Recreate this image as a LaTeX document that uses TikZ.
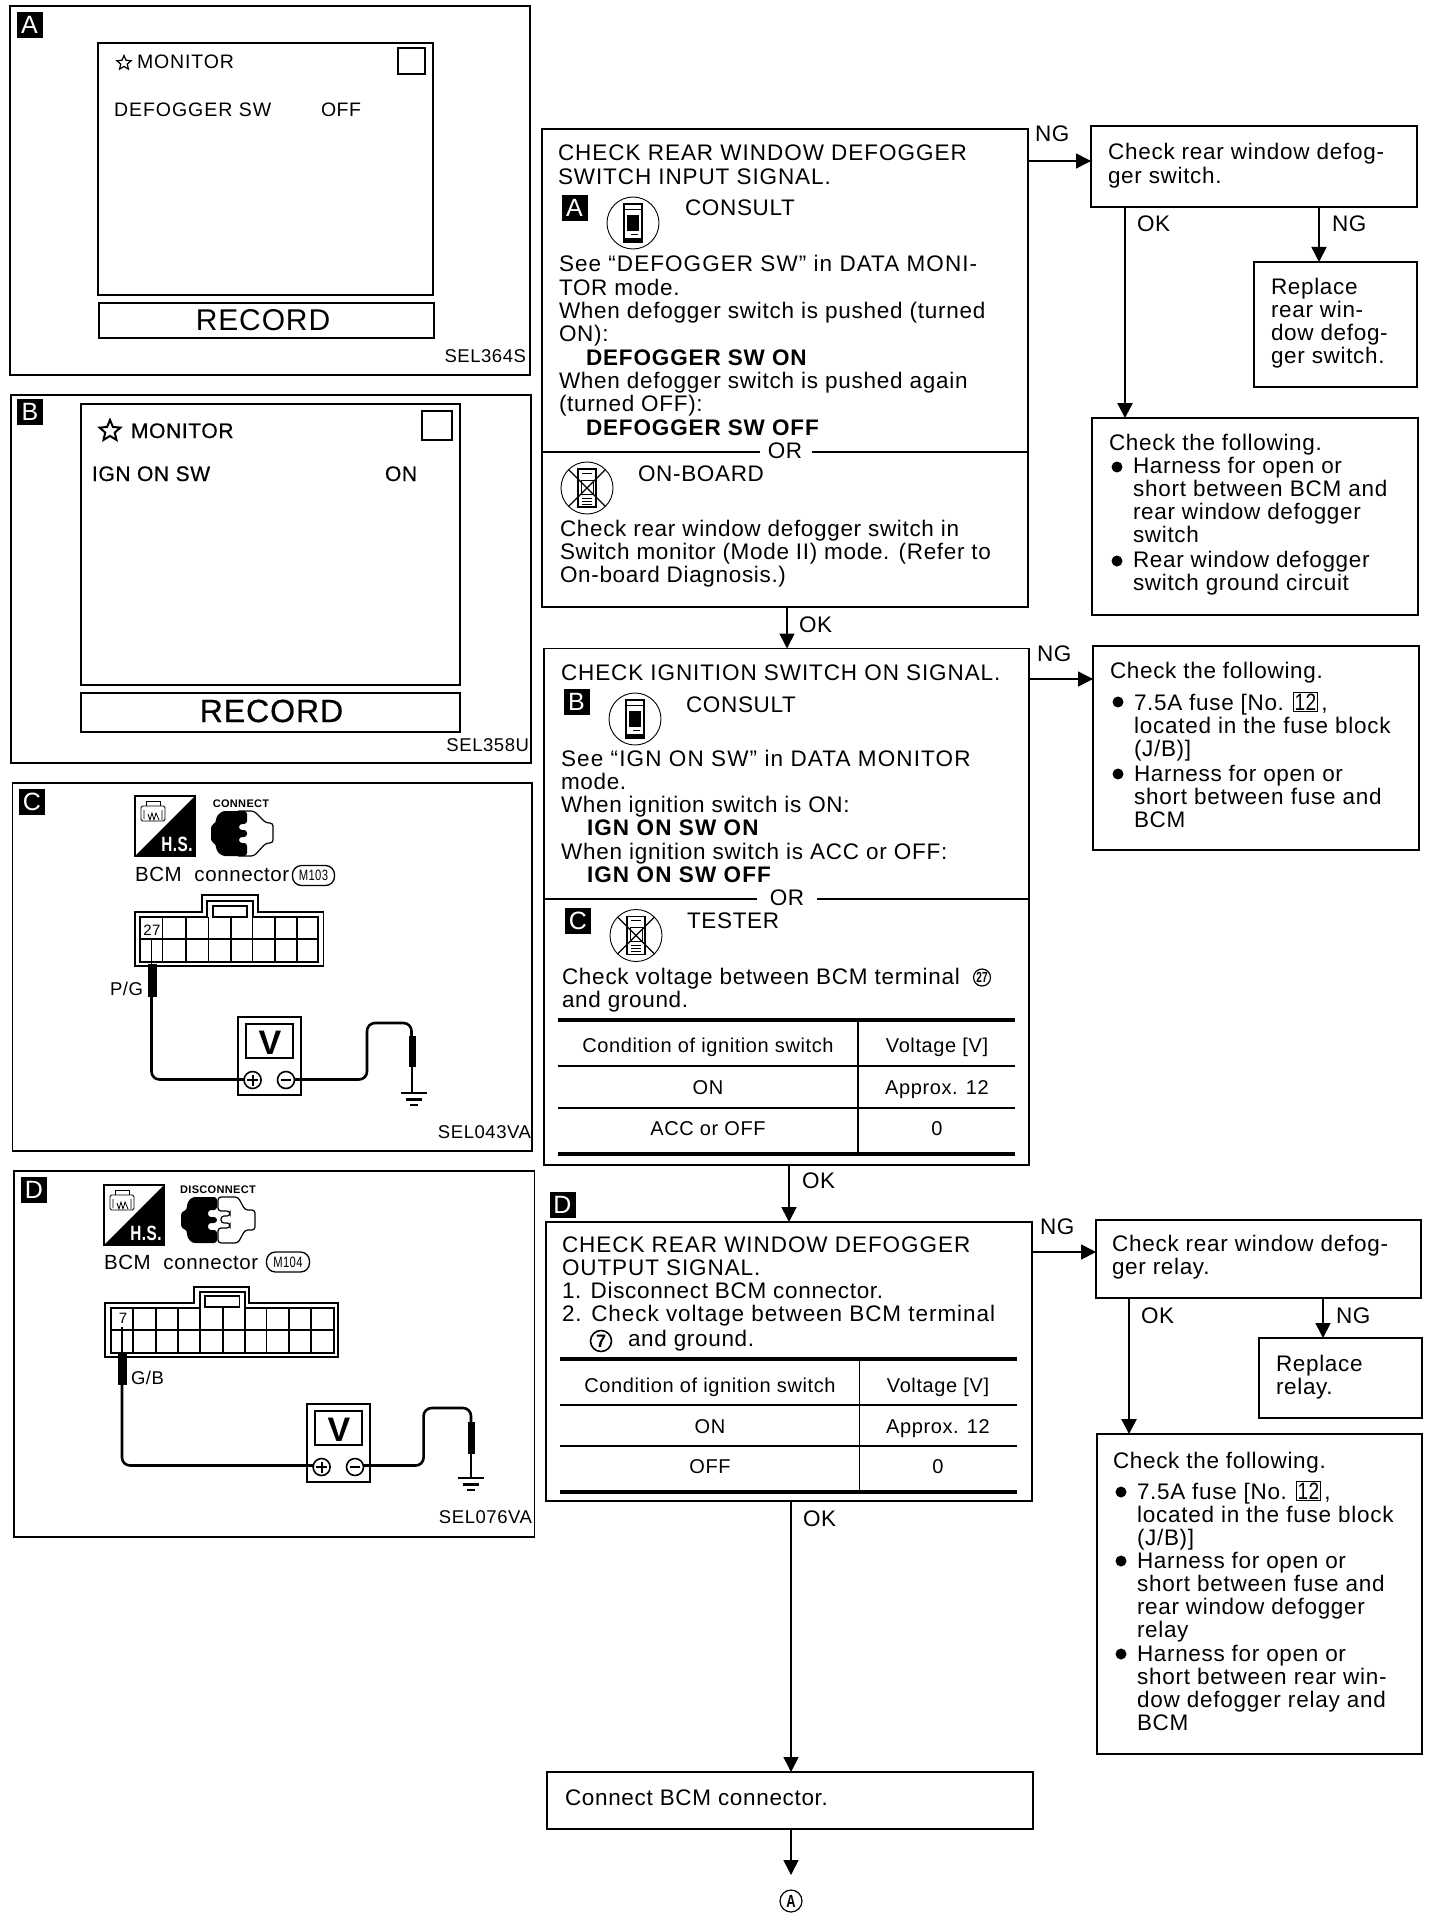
\documentclass[tikz,border=0pt]{standalone}
\usepackage{fontspec}
\usepackage{graphicx}
\setmainfont[LetterSpace=3]{Liberation Sans}
\usetikzlibrary{arrows.meta,shapes.geometric}
\newcommand\fsz[2]{\fontsize{#1}{#2}\selectfont}
\newcommand\Lines[1]{\begin{tabular}[t]{@{}l@{}}#1\end{tabular}}
\newcommand\Ls[2]{{\addfontfeature{LetterSpace=#1}#2}}
\newcommand\Hv{\addfontfeature{FakeBold=0.6}}
\newcommand\Ind[2]{\hspace*{27pt}\textbf{\Ls{#1}{#2}}}
\newcommand\Fuse{\smash{\setlength\fboxsep{0.6pt}\setlength\fboxrule{0.7pt}\fbox{\scalebox{0.85}[1.05]{12}}}}
\newcommand\bx[6][flowbox]{\node[#1,minimum width=#5pt,minimum height=#6pt] (#2) at (#3,#4) {};}
\tikzset{
  every node/.style={inner sep=0pt,outer sep=0pt},
  flowbox/.style={draw,rectangle,line width=1.8pt,anchor=north west},
  panelbox/.style={draw,rectangle,line width=1.8pt,anchor=north west},
  thickbox/.style={draw,rectangle,line width=2.8pt,anchor=north west},
  thinbox/.style={draw,rectangle,line width=1.6pt,anchor=north west},
  txt/.style={anchor=base west,xshift=-1pt,font=\fsz{22.5}{23.3}},
  lbl/.style={anchor=base west,xshift=-1pt,font=\fsz{22.5}{23.3}},
  ptxt/.style={anchor=base west,font=\fsz{19.5}{23}},
  btxt/.style={anchor=base west,font=\fsz{21}{23}\Hv},
  code/.style={anchor=base east,font=\fsz{18.5}{22}},
  cell/.style={anchor=base,font=\fsz{20}{23}},
  badge/.style={fill=black,text=white,minimum size=26pt,font=\fsz{25}{25}},
  bul/.style={circle,fill=black,minimum size=11pt},
  ring/.style={circle,draw,line width=1.2pt},
  tag/.style={draw,rectangle,rounded corners=9pt,line width=1.3pt,font=\fsz{15}{15}},
  arr/.style={line width=1.6pt,-{Triangle[length=15pt,width=15pt]}},
  arrb/.style={line width=2.6pt,-{Triangle[length=15pt,width=15pt]}},
  rule/.style={line width=1.6pt},
  heavy/.style={line width=4pt},
  wire/.style={line width=2.6pt,rounded corners=8pt},
  thin1/.style={line width=1.3pt},
  consultdev/.pic={
    \draw[line width=0.9pt] (0,0) circle[radius=26pt];
    \draw[line width=1.6pt,fill=white] (-9,-19) rectangle (9,19);
    \fill (-6,-8) rectangle (6,8);
    \draw[line width=0.7pt] (-9,-14) -- (9,-14);
    \fill (-9,15) rectangle (9,20);
    \draw[line width=0.7pt] (-2,11) -- (5,11);
  },
  crosseddev/.pic={
    \draw[line width=0.9pt] (0,0) circle[radius=26pt];
    \draw[line width=1.1pt] (-9,-19) rectangle (9,19);
    \draw[line width=1.0pt] (-6,-8) rectangle (6,6);
    \draw[line width=1.1pt] (-18.4,-18.4) -- (18.4,18.4) (18.4,-18.4) -- (-18.4,18.4);
    \draw[line width=0.7pt] (-5,-15) -- (5,-15) (-5,10) -- (5,10) (-5,13) -- (5,13) (-5,16) -- (5,16);
  },
  hsicon/.pic={
    \draw[line width=1.3pt] (0,0) rectangle (60,60);
    \fill (60,0) -- (60,60) -- (0,60) -- cycle;
    \node[text=white,font=\bfseries\fsz{18}{18},anchor=base] (hs) at (42,55) {\scalebox{0.85}[1.15]{H.S.}};
    \draw[line width=0.9pt,fill=white,rounded corners=1.5pt] (6,10) rectangle (30,25);
    \draw[line width=0.9pt] (11,10) -- (11,5) -- (25,5) -- (25,10);
    \draw[line width=0.8pt] (9,14) -- (9,23) (13,18) -- (15,24) -- (17,17) -- (19,24) -- (21,17) -- (24,24) (27,14) -- (27,24);
  },
  vmeter/.pic={
    \draw[line width=1.8pt,fill=white] (0,0) rectangle (63,78);
    \draw[line width=2.8pt] (8,7) rectangle (55,41);
    \node[font=\bfseries\fsz{34}{34},anchor=base] (v) at (32,37) {V};
    \draw[line width=1.6pt,fill=white] (14.6,63) circle[radius=8.5pt];
    \draw[line width=1.6pt,fill=white] (48,63) circle[radius=8.5pt];
    \draw[line width=2pt] (9,63) -- (20,63) (14.6,57.5) -- (14.6,68.5) (43,63) -- (53,63);
  },
  gnd/.pic={
    \draw[line width=2.2pt] (-13,0) -- (13,0);
    \draw[line width=2.2pt] (-8,6.5) -- (8,6.5);
    \draw[line width=2.2pt] (-4,12) -- (4,12);
  }
}
\begin{document}
\begin{tikzpicture}[x=1pt,y=-1pt]
\useasboundingbox (0,0) rectangle (1440,1918);
\fill[white] (0,0) rectangle (1440,1918);

% ---------- Panel A
\bx[panelbox]{pA}{10}{6}{520}{369}
\node[badge] (bA) at (29.5,25) {A};
\bx[thinbox]{sA}{98}{43}{335}{252}
\bx[thinbox]{qA}{398}{48}{27}{26}
\bx[thinbox]{rA}{99}{303}{335}{35}
\node[star,star points=5,star point ratio=2.2,draw,line width=1.2pt,minimum size=15pt] (stA) at (124,63) {};
\node[ptxt] (mA) at (137,69) {\Ls{4.5}{MONITOR}};
\node[ptxt] (dA) at (114,117) {\Ls{5}{DEFOGGER SW}};
\node[ptxt] (oA) at (321,117) {OFF};
\node[anchor=base,font=\fsz{30}{30}] (recA) at (263,330) {RECORD};
\node[code] (cA) at (526,362) {SEL364S};

% ---------- Panel B
\bx[panelbox]{pB}{11}{395}{520}{368}
\node[badge] (bB) at (30,412) {B};
\bx[thickbox]{sB}{81}{404}{379}{281}
\bx[thickbox]{qB}{422}{411}{30}{29}
\bx[thickbox]{rB}{81}{693}{379}{39}
\node[star,star points=5,star point ratio=2.2,draw,line width=2pt,minimum size=22pt] (stB) at (110,431) {};
\node[btxt] (mB) at (131,438) {MONITOR};
\node[btxt] (dB) at (92,481) {IGN ON SW};
\node[btxt] (oB) at (385,481) {ON};
\node[anchor=base,font=\fsz{32}{32}\Hv] (recB) at (271.5,722) {RECORD};
\node[code] (cB) at (529,751) {SEL358U};

% ---------- Panel C
\bx[panelbox]{pC}{12.5}{783}{519.5}{368}
\node[badge] (bC) at (32,802) {C};
\pic (hC) at (135,796) {hsicon};
\node[anchor=base,font=\bfseries\fsz{11}{11}] (conC) at (241,807) {CONNECT};
\begin{scope}[shift={(241,833)}]
  \draw[line width=1.2pt,fill=white,rounded corners=3pt] (-5,-22) -- (13,-22) -- (25,-10) -- (32,-10) -- (32,10) -- (25,10) -- (13,23) -- (-5,23) -- cycle;
  \fill[rounded corners=3pt] (-19,-22) -- (6,-22) -- (6,-9) -- (-2,-9) -- (-2,-3) -- (6,-3) -- (6,4) -- (-2,4) -- (-2,10) -- (6,10) -- (6,23) -- (-19,23) -- (-25,17) -- (-25,11) -- (-30,9) -- (-30,-8) -- (-25,-10) -- (-25,-16) -- cycle;
\end{scope}
\node[ptxt,font=\fsz{20.5}{23}] (tC) at (135,881) {BCM\ \ connector};
\node[tag,minimum width=42pt,minimum height=20pt] (tgC) at (313.5,875.5) {\scalebox{0.75}[1]{M103}};
\draw[thin1] (135,912) -- (202,912) -- (202,895) -- (258,895) -- (258,912) -- (323.5,912) -- (323.5,966) -- (135,966) -- cycle;
\draw[line width=1.8pt] (140,917) -- (207,917) -- (207,901) -- (253,901) -- (253,917) -- (318,917) -- (318,962) -- (140,962) -- cycle;
\draw[thin1] (213,906) rectangle (247,917);
\draw[line width=1.6pt] (140,939) -- (318,939);
\foreach \gx in {162.6,185.8,208.6,231,252.6,275,297} {\draw[line width=1.6pt] (\gx,917) -- (\gx,962);}
\node[anchor=base,font=\fsz{15}{15}] (n27) at (152,935.5) {27};
\draw[line width=1.8pt] (151.5,939) -- (151.5,964);
\fill (148,964) rectangle (157,997);
\node[ptxt,font=\fsz{18.5}{22}] (pg) at (110,995) {P/G};
\pic (mC) at (238,1017) {vmeter};
\draw[wire] (151.5,997) -- (151.5,1079.5) -- (244,1079.5);
\draw[wire] (295,1079.5) -- (367,1079.5) -- (367,1023) -- (411.5,1023) -- (411.5,1037);
\fill (408.5,1036) rectangle (415.5,1067);
\draw[line width=2pt] (411.5,1067) -- (411.5,1093);
\pic (gC) at (414,1093) {gnd};
\node[code] (cC) at (531,1138) {SEL043VA};

% ---------- Panel D
\bx[panelbox]{pD}{14}{1171}{520.5}{366}
\node[badge] (bD) at (34,1190) {D};
\pic (hD) at (104,1185) {hsicon};
\node[anchor=base,font=\bfseries\fsz{11}{11}] (conD) at (218,1193) {DISCONNECT};
\begin{scope}[shift={(218,1220)}]
  \draw[line width=1.2pt,fill=white,rounded corners=3pt] (0,-23) -- (20,-23) -- (27,-10) -- (37,-10) -- (37,10) -- (27,10) -- (20,23) -- (0,23) -- (0,8) -- (12,8) -- (12,3) -- (3,3) -- (3,-4) -- (12,-4) -- (12,-9) -- (0,-9) -- cycle;
  \fill[rounded corners=3pt] (-26,-23) -- (-1,-23) -- (-1,-10) -- (-10,-10) -- (-10,-3) -- (-1,-3) -- (-1,3) -- (-10,3) -- (-10,10) -- (-1,10) -- (-1,23) -- (-26,23) -- (-31,17) -- (-31,10) -- (-37,8) -- (-37,-8) -- (-31,-10) -- (-31,-17) -- cycle;
\end{scope}
\node[ptxt,font=\fsz{20.5}{23}] (tD) at (104,1269) {BCM\ \ connector};
\node[tag,minimum width=43pt,minimum height=20pt] (tgD) at (288,1262) {\scalebox{0.75}[1]{M104}};
\draw[thin1] (105,1303) -- (194,1303) -- (194,1287) -- (249,1287) -- (249,1303) -- (338,1303) -- (338,1357) -- (105,1357) -- cycle;
\draw[line width=1.8pt] (111,1308) -- (200,1308) -- (200,1292) -- (245,1292) -- (245,1308) -- (334,1308) -- (334,1353) -- (111,1353) -- cycle;
\draw[thin1] (205,1296) rectangle (239.5,1307);
\draw[line width=1.3pt] (111,1330) -- (334,1330);
\foreach \gx in {133,155.7,178,200,223,245,266.4,289,310.7} {\draw[line width=1.6pt] (\gx,1308) -- (\gx,1353);}
\node[anchor=base,font=\fsz{15}{15}] (n7) at (123,1323) {7};
\draw[line width=1.8pt] (122,1327) -- (122,1353);
\fill (118,1353) rectangle (127,1385);
\node[ptxt,font=\fsz{18.5}{22}] (gb) at (131,1384) {G/B};
\pic (mD) at (307,1404) {vmeter};
\draw[wire] (122,1385) -- (122,1465.5) -- (314,1465.5);
\draw[wire] (364,1465.5) -- (423.6,1465.5) -- (423.6,1408) -- (471,1408) -- (471,1422);
\fill (468,1422) rectangle (475,1454);
\draw[line width=2pt] (471,1454) -- (471,1478);
\pic (gD) at (470.5,1478) {gnd};
\node[code] (cD) at (532,1523) {SEL076VA};

% ---------- Flow column, boxes
\bx{b1}{542}{129}{486}{478}
\bx{b2}{544}{648.5}{485}{516.5}
\bx{b3}{546}{1222}{486}{279}
\bx{b4}{547}{1772}{486}{57}
\bx{r1}{1091}{126}{326}{81}
\bx{r1n}{1254}{262}{163}{125}
\bx{r1o}{1092}{418}{326}{197}
\bx{r2}{1093}{646}{326}{204}
\bx{r3}{1096}{1220}{325}{78}
\bx{r3n}{1259}{1338}{163}{80}
\bx{r3o}{1097}{1434}{325}{320}

% ---------- Box 1
\node[txt] (t1a) at (559,161) {\Lines{\Ls{4.3}{CHECK REAR WINDOW DEFOGGER}\\\Ls{4}{SWITCH INPUT SIGNAL.}}};
\node[badge] (b1A) at (574.5,208) {A};
\pic (i1) at (633,223) {consultdev};
\node[txt] (t1c) at (686,216) {CONSULT};
\node[txt] (t1b) at (560,272) {\Lines{\Ls{4.7}{See “DEFOGGER SW” in DATA MONI-}\\TOR mode.\\\Ls{3.3}{When defogger switch is pushed (turned}\\ON):\\\Ind{3.8}{DEFOGGER SW ON}\\\Ls{3.3}{When defogger switch is pushed again}\\(turned OFF):\\\Ind{3.8}{DEFOGGER SW OFF}}};
\coordinate (o1) at (785,452);
\node[anchor=base,font=\fsz{22.5}{23.3}] (or1) at (785,458.5) {OR};
\draw[rule] (o1 -| b1.west) -- ++(218,0);
\draw[rule] (o1 -| b1.east) -- ++(-216,0);
\pic (i2) at (587,488) {crosseddev};
\node[txt] (t1d) at (639,481) {ON-BOARD};
\node[txt] (t1e) at (561,536) {\Lines{Check rear window defogger switch in\\Switch monitor (Mode II) mode. (Refer to\\On-board Diagnosis.)}};

% ---------- Box 2
\node[txt] (t2a) at (562,680.5) {\Ls{4}{CHECK IGNITION SWITCH ON SIGNAL.}};
\node[badge] (b2B) at (576.5,702) {B};
\pic (i3) at (635,719) {consultdev};
\node[txt] (t2c) at (687,712) {CONSULT};
\node[txt] (t2b) at (562,766) {\Lines{\Ls{5}{See “IGN ON SW” in DATA MONITOR}\\mode.\\When ignition switch is ON:\\\hspace*{26pt}\textbf{\Ls{5}{IGN ON SW ON}}\\\Ls{3.4}{When ignition switch is ACC or OFF:}\\\hspace*{26pt}\textbf{\Ls{5}{IGN ON SW OFF}}}};
\coordinate (o2) at (787,899);
\node[anchor=base,font=\fsz{22.5}{23.3}] (or2) at (787,905.5) {OR};
\draw[rule] (o2 -| b2.west) -- ++(213,0);
\draw[rule] (o2 -| b2.east) -- ++(-212,0);
\node[badge] (b2C) at (578,920.5) {C};
\pic (i4) at (636,935.5) {crosseddev};
\node[txt] (t2d) at (688,928.5) {TESTER};
\node[txt] (t2e) at (563,984) {\Lines{\Ls{3.3}{Check voltage between BCM terminal}\\and ground.}};
\node[ring,minimum size=17pt,font=\bfseries\fsz{14}{14}] (c27) at (982,977.5) {\scalebox{0.72}[1.05]{27}};
\draw[heavy] (558,1020) -- (1015,1020);
\draw[rule,line width=2pt] (558,1066) -- (1015,1066);
\draw[rule] (558,1108) -- (1015,1108);
\draw[heavy] (558,1154) -- (1015,1154);
\draw[line width=1.8pt] (858,1020) -- (858,1154);
\node[cell] (t2h1) at (708,1052) {Condition of ignition switch};
\node[cell] (t2h2) at (937,1052) {Voltage [V]};
\node[cell] (t2r1) at (708,1094) {ON};
\node[cell] (t2r2) at (937,1094) {Approx. 12};
\node[cell] (t2s1) at (708,1135) {ACC or OFF};
\node[cell] (t2s2) at (937,1135) {0};

% ---------- Box 3
\node[badge] (b3D) at (562.5,1204.5) {D};
\node[txt] (t3a) at (563,1252) {\Lines{\Ls{4.2}{CHECK REAR WINDOW DEFOGGER}\\\Ls{4}{OUTPUT SIGNAL.}\\1. Disconnect BCM connector.\\\Ls{4.2}{2. Check voltage between BCM terminal}}};
\node[ring,line width=1.6pt,minimum size=21pt,font=\bfseries\fsz{18}{18}] (c7) at (601,1341) {7};
\node[txt] (t3b) at (629,1346) {and ground.};
\draw[heavy] (560,1359) -- (1017,1359);
\draw[rule,line width=2pt] (560,1405) -- (1017,1405);
\draw[rule,line width=2pt] (560,1446) -- (1017,1446);
\draw[heavy] (560,1492) -- (1017,1492);
\draw[line width=1.8pt] (859.5,1359) -- (859.5,1492);
\node[cell] (t3h1) at (710,1392) {Condition of ignition switch};
\node[cell] (t3h2) at (938,1392) {Voltage [V]};
\node[cell] (t3r1) at (710,1433) {ON};
\node[cell] (t3r2) at (938,1433) {Approx. 12};
\node[cell] (t3s1) at (710,1473) {OFF};
\node[cell] (t3s2) at (938,1473) {0};

% ---------- Box 4
\node[txt] (t4) at (566,1805) {Connect BCM connector.};
\node[ring,minimum size=22pt,font=\bfseries\fsz{16}{16}] (endA) at (791,1901) {\scalebox{0.8}[1.1]{A}};

% ---------- Right boxes
\node[txt] (tr1) at (1109,160) {\Lines{\Ls{3.3}{Check rear window defog-}\\ger switch.}};
\node[txt] (tr1n) at (1272,294) {\Lines{Replace\\rear win-\\dow defog-\\ger switch.}};
\node[txt] (tr1o) at (1110,450) {Check the following.};
\node[bul] (u1) at (1117,467) {};
\node[txt] (tr1p) at (1134,473) {\Lines{Harness for open or\\\Ls{3.4}{short between BCM and}\\rear window defogger\\switch}};
\node[bul] (u2) at (1117,561) {};
\node[txt] (tr1q) at (1134,567) {\Lines{Rear window defogger\\switch ground circuit}};

\node[txt] (tr2) at (1111,678) {Check the following.};
\node[bul] (u3) at (1118,702) {};
\node[txt] (tr2p) at (1135,710) {\Lines{7.5A fuse [No. \Fuse\,,\\\Ls{3.4}{located in the fuse block}\\(J/B)]}};
\node[bul] (u4) at (1118,774) {};
\node[txt] (tr2q) at (1135,781) {\Lines{Harness for open or\\\Ls{3.4}{short between fuse and}\\BCM}};

\node[txt] (tr3) at (1113,1251) {\Lines{\Ls{3.3}{Check rear window defog-}\\ger relay.}};
\node[txt] (tr3n) at (1277,1371) {\Lines{Replace\\relay.}};
\node[txt] (tr3o) at (1114,1468) {Check the following.};
\node[bul] (u5) at (1121,1492) {};
\node[txt] (tr3p) at (1138,1499) {\Lines{7.5A fuse [No. \Fuse\,,\\\Ls{3.4}{located in the fuse block}\\(J/B)]}};
\node[bul] (u6) at (1121,1561) {};
\node[txt] (tr3q) at (1138,1568) {\Lines{Harness for open or\\\Ls{3.4}{short between fuse and}\\rear window defogger\\relay}};
\node[bul] (u7) at (1121,1654) {};
\node[txt] (tr3r) at (1138,1661) {\Lines{Harness for open or\\\Ls{3.4}{short between rear win-}\\\Ls{3.4}{dow defogger relay and}\\BCM}};

% ---------- Connectors
\coordinate (k1) at (787,0);
\coordinate (k2) at (789,0);
\coordinate (k3) at (791,0);
\draw[arr] (b1.south -| k1) -- (b2.north -| k1);
\draw[arr] (b2.south -| k2) -- (b3.north -| k2);
\draw[arr] (b3.south -| k3) -- (b4.north -| k3);
\draw[arr] (b4.south -| k3) -- ++(0,46) coordinate (k4);
\node[lbl] (ok1) at (800,632.5) {OK};
\node[lbl] (ok2) at (803,1188) {OK};
\node[lbl] (ok3) at (804,1526) {OK};

\coordinate (h1) at (0,161);
\coordinate (h2) at (0,679);
\coordinate (h3) at (0,1252);
\draw[arr] (b1.east |- h1) -- (r1.west |- h1);
\draw[arr] (b2.east |- h2) -- (r2.west |- h2);
\draw[arr] (b3.east |- h3) -- (r3.west |- h3);
\node[lbl] (ng1) at (1036,142) {NG};
\node[lbl] (ng2) at (1038,661) {NG};
\node[lbl] (ng3) at (1041,1234) {NG};

\coordinate (v1) at (1125,0);
\coordinate (v2) at (1319,0);
\coordinate (v3) at (1129,0);
\coordinate (v4) at (1323,0);
\draw[arrb] (r1.south -| v1) -- (r1o.north -| v1);
\draw[arr] (r1.south -| v2) -- (r1n.north -| v2);
\draw[arrb] (r3.south -| v3) -- (r3o.north -| v3);
\draw[arr] (r3.south -| v4) -- (r3n.north -| v4);
\node[lbl] (ok4) at (1138,232) {OK};
\node[lbl] (ng4) at (1333,232) {NG};
\node[lbl] (ok5) at (1142,1323) {OK};
\node[lbl] (ng5) at (1337,1323) {NG};
\end{tikzpicture}
\end{document}
